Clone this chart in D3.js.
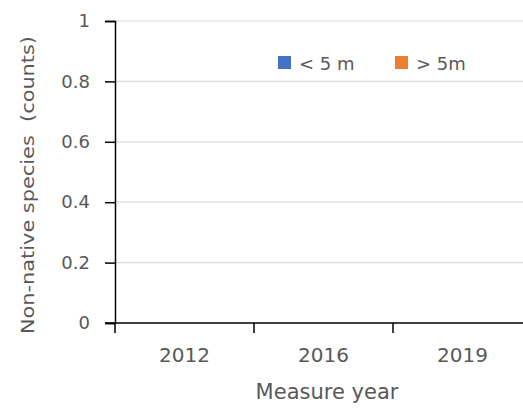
<!DOCTYPE html>
<html><head><meta charset="utf-8">
<script src="https://cdn.jsdelivr.net/npm/d3@7"></script>
<style>body{margin:0;background:#fff;} svg{display:block;} text{font-family:"DejaVu Sans", sans-serif;fill:#595959;}</style>
</head><body>
<svg id="c" width="523" height="408"></svg>
<script>
const categories = ["2012", "2016", "2019"];
const seriesNames = ["< 5 m", "> 5m"];
const seriesColors = ["#4472C4", "#ED7D31"];
const below5m = [0, 0, 0];
const above5m = [0, 0, 0];
const yTicks = [0, 0.2, 0.4, 0.6, 0.8, 1];

(function () {
const svg = d3.select("#c");
const FONT = "DejaVu Sans, sans-serif";
const mLeft = 115, mRight = 532, mTop = 21, mBottom = 323;
const x = d3.scaleBand().domain(categories).range([mLeft, mRight]);
const y = d3.scaleLinear().domain([0, 1]).range([mBottom, mTop]);

// gridlines
svg.append("g").selectAll("line").data(yTicks.filter(d => d > 0)).join("line")
  .attr("x1", mLeft).attr("x2", 523).attr("y1", d => y(d)).attr("y2", d => y(d))
  .attr("stroke", "#d9d9d9").attr("stroke-width", 1.2);

// bars (all values zero)
const x1 = d3.scaleBand().domain(seriesNames).range([0, x.bandwidth()]).paddingInner(0.1).paddingOuter(0.6);
const series = [below5m, above5m];
series.forEach((vals, si) => {
  svg.append("g").selectAll("rect").data(vals).join("rect")
    .attr("x", (d, i) => x(categories[i]) + x1(seriesNames[si]))
    .attr("width", x1.bandwidth())
    .attr("y", d => y(d)).attr("height", d => y(0) - y(d))
    .attr("fill", seriesColors[si]);
});

// y axis
const yAxis = svg.append("g").attr("transform", `translate(${mLeft},0)`)
  .call(d3.axisLeft(y).tickValues(yTicks).tickFormat(d => d === 0 || d === 1 ? String(d) : d3.format(".1f")(d)).tickSize(10).tickPadding(15));
yAxis.select(".domain").attr("stroke", "#000").attr("stroke-width", 1.5);
yAxis.selectAll(".tick line").attr("stroke", "#000").attr("stroke-width", 1.5);
yAxis.selectAll("text").attr("font-size", 18).attr("fill", "#595959").attr("font-family", FONT);

// x axis
const xAxis = svg.append("g").attr("transform", `translate(0,${mBottom})`)
  .call(d3.axisBottom(x).tickSize(0).tickPadding(25));
xAxis.select(".domain").remove();
xAxis.append("line").attr("x1", 105).attr("x2", 523).attr("y1", 0).attr("y2", 0).attr("stroke", "#000").attr("stroke-width", 1.5);
const boundaries = categories.map(c => x(c));
xAxis.selectAll(".bt").data(boundaries).join("line").attr("class", "bt")
  .attr("x1", d => d).attr("x2", d => d).attr("y1", 0).attr("y2", 10)
  .attr("stroke", "#000").attr("stroke-width", 1.5);
xAxis.selectAll(".tick text").attr("font-size", 20).attr("fill", "#595959").attr("font-family", FONT);

// axis titles
svg.append("text").attr("x", 327).attr("y", 399).attr("text-anchor", "middle")
  .attr("font-size", 21).text("Measure year");
svg.append("text").attr("transform", "translate(34,185) rotate(-90)").attr("text-anchor", "middle")
  .attr("font-size", 18).attr("textLength", 298).attr("lengthAdjust", "spacingAndGlyphs")
  .style("white-space", "pre").text("Non-native species  (counts)");

// legend
const legendX = [278, 395];
seriesNames.forEach((n, i) => {
  svg.append("rect").attr("x", legendX[i]).attr("y", 56).attr("width", 13).attr("height", 13).attr("fill", seriesColors[i]);
  svg.append("text").attr("x", legendX[i] + 21).attr("y", 70).attr("font-size", 18).text(n);
});
})();
</script>
</body></html>
